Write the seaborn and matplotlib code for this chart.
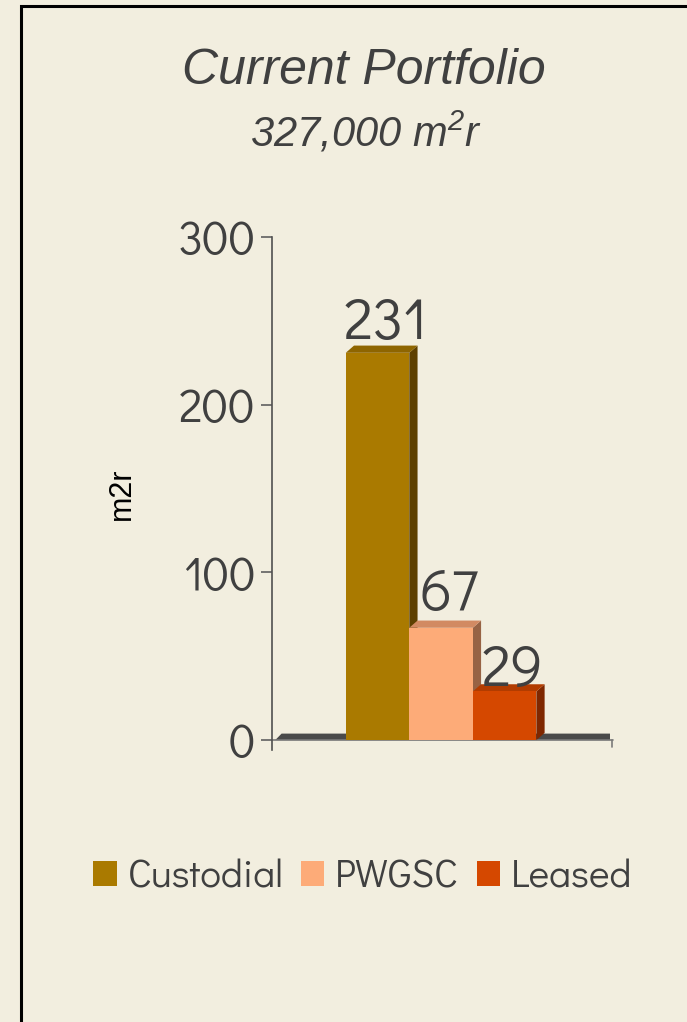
import matplotlib
matplotlib.use("Agg")
import matplotlib.pyplot as plt
import matplotlib.patches as mpatches
import pandas as pd
import seaborn as sns

# data
categories = ["Custodial", "PWGSC", "Leased"]
values = [231, 67, 29]
front_colors = ["#AA7A00", "#FDAB78", "#D54800"]
side_colors = ["#5E4000", "#976344", "#7F2700"]
top_colors = ["#8E6500", "#D28A62", "#B23C00"]
yticks = [0, 100, 200, 300]

bg = "#F2EEDF"
txt = "#404040"

sns.set_theme(style="white")
gothic = ["Didact Gothic", "Questrial", "DejaVu Sans"]
plt.rcParams["font.family"] = gothic
plt.rcParams["mathtext.fontset"] = "custom"
plt.rcParams["mathtext.rm"] = "Liberation Sans:italic"
plt.rcParams["mathtext.it"] = "Liberation Sans:italic"

df = pd.DataFrame({"cat": categories, "val": values})

fig = plt.figure(figsize=(6.87, 10.22), dpi=100, facecolor=bg)
ax = fig.add_axes([0.396, 0.266, 0.492, 0.502])
ax.set_facecolor(bg)

sns.barplot(data=df, x="cat", y="val", hue="cat", palette=front_colors,
            width=1.0, legend=False, ax=ax, saturation=1, linewidth=0)

ax.set_xlim(-1.66, 3.66)
ax.set_ylim(-6, 300)

# 3D depth (in data units)
dx, dy = 0.13, 4.3

# floor
x0, x1 = ax.get_xlim()
floor = mpatches.Polygon([(x0 + 0.05, 0), (x1, 0), (x1 + 0.03, dy * 0.9), (x0 + 0.15, dy * 0.9)],
                         closed=True, facecolor="#4A4A4A", edgecolor="none", zorder=1)
ax.add_patch(floor)
ax.plot([x0, x1 + 0.05], [0, 0], color="#7A7A7A", lw=1.2, zorder=1, clip_on=False)
ax.plot([x1 + 0.03, x1 + 0.03], [0, -4], color="#7A7A7A", lw=1.2, clip_on=False)

label_pad = [4, 6.4, -1.3]
for i, p in enumerate(ax.patches[:3]):
    xl = p.get_x()
    w = p.get_width()
    h = p.get_height()
    p.set_zorder(3)
    side = mpatches.Polygon([(xl + w, 0), (xl + w + dx, dy), (xl + w + dx, h + dy), (xl + w, h)],
                            closed=True, facecolor=side_colors[i], edgecolor="none", zorder=2)
    top = mpatches.Polygon([(xl, h), (xl + dx, h + dy), (xl + w + dx, h + dy), (xl + w, h)],
                           closed=True, facecolor=top_colors[i], edgecolor="none", zorder=2)
    ax.add_patch(side)
    ax.add_patch(top)
    ax.text(xl + w / 2 + dx, h + dy + label_pad[i], str(values[i]), ha="center", va="baseline",
            fontsize=42, color=txt, zorder=4)

ax.set_yticks(yticks)
ax.set_yticklabels([str(t) for t in yticks], fontsize=34, color=txt)
ax.set_xticks([])
ax.set_xlabel("")
ax.set_ylabel("m2r", fontsize=22, color="black", family=["Liberation Sans"], labelpad=29)
ax.tick_params(axis="y", left=True, length=8, width=1.2, color="#606060", pad=4)
for s in ["top", "right", "bottom"]:
    ax.spines[s].set_visible(False)
ax.spines["left"].set_color("#505050")
ax.spines["left"].set_linewidth(1.2)

# titles
fig.text(0.53, 0.931, "Current Portfolio", ha="center", va="center", fontsize=36,
         style="italic", color=txt, family=["Liberation Sans"])
fig.text(0.532, 0.870, "327,000 m$^2$r", ha="center", va="center", fontsize=30,
         style="italic", color=txt, family=["Liberation Sans"])

# legend
handles = [mpatches.Patch(facecolor=c, edgecolor="none", label=l) for c, l in zip(front_colors, categories)]
fig.legend(handles=handles, loc="center", bbox_to_anchor=(0.528, 0.142), ncol=3, frameon=False,
           fontsize=28, handlelength=0.6, handleheight=0.6, handletextpad=0.28,
           columnspacing=0.45, labelcolor=txt)

# panel border
fig.patches.append(mpatches.Rectangle((21 / 687, -0.1), 1.2, 1 - 6 / 1022 + 0.1, transform=fig.transFigure,
                                      fill=False, edgecolor="black", linewidth=2.2))

fig.savefig("out.png", dpi=100, facecolor=bg)
